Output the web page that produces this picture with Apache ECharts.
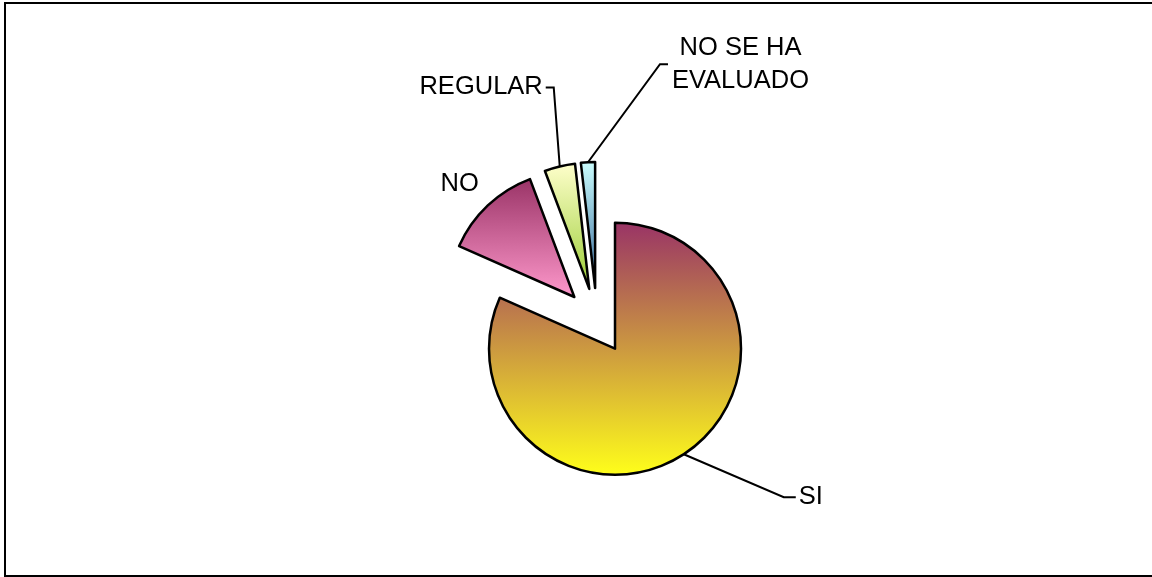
<!DOCTYPE html>
<html>
<head>
<meta charset="utf-8">
<script src="https://cdn.jsdelivr.net/npm/echarts@6/dist/echarts.min.js"></script>
<style>
  html, body { margin: 0; padding: 0; background: #fff; overflow: hidden; }
  #frame { position: absolute; left: 4px; top: 2px; width: 1170px; height: 571px; border: 2px solid #000; }
  #chart { position: absolute; left: 0; top: 0; width: 1152px; height: 577px; }
</style>
</head>
<body>
<div id="frame"></div>
<div id="chart"></div>
<script>
// datos
var categories = ["SI", "NO", "REGULAR", "NO SE HA EVALUADO"];
var values = [81.3, 12.6, 3.9, 1.8];
var topColors = ["#993366", "#993366", "#ffffcc", "#ccffff"];
var bottomColors = ["#ffff1a", "#ff99cc", "#99cc33", "#336699"];

var pieCenter = [597, 321];
var pieRadius = 126;
var explode = 33;

// leader line from (exploded) slice edge: elbow offset and tail
var guides = [
  { dx: 100, dy: 43, tail: 12 },
  { dx: -9, dy: -21, tail: 0 },
  { dx: -6, dy: -79, tail: -8 },
  { dx: 72, dy: -98, tail: 8 }
];

var chart = echarts.init(document.getElementById("chart"));

var sliceData = categories.map(function (name, i) {
  return {
    name: name,
    value: values[i],
    selected: true,
    itemStyle: {
      color: new echarts.graphic.LinearGradient(0, 0, 0, 1, [
        { offset: 0, color: topColors[i] },
        { offset: 1, color: bottomColors[i] }
      ])
    }
  };
});

var labelData = categories.map(function (name, i) {
  return {
    name: name,
    value: values[i],
    label: i === 3 ? { formatter: "NO SE HA\nEVALUADO", align: "center", lineHeight: 33 } : {}
  };
});

chart.setOption({
  animation: false,
  series: [{
    // porciones separadas
    type: "pie",
    center: pieCenter,
    radius: pieRadius,
    startAngle: 90,
    clockwise: true,
    selectedMode: "multiple",
    selectedOffset: explode,
    itemStyle: { borderColor: "#000", borderWidth: 2.5 },
    select: { itemStyle: { borderColor: "#000", borderWidth: 2.5 } },
    emphasis: { disabled: true },
    label: { show: false },
    labelLine: { show: false },
    data: sliceData
  }, {
    // solo etiquetas
    type: "pie",
    silent: true,
    z: 3,
    center: pieCenter,
    radius: pieRadius,
    startAngle: 90,
    clockwise: true,
    selectedMode: false,
    avoidLabelOverlap: false,
    emphasis: { disabled: true },
    itemStyle: { color: "rgba(0,0,0,0)", borderWidth: 0 },
    label: {
      show: true,
      position: "outside",
      color: "#000",
      fontFamily: "Liberation Sans, Arial",
      fontSize: 25.5
    },
    labelLine: {
      show: true,
      length: 20,
      length2: 10,
      lineStyle: { color: "#000", width: 2 }
    },
    labelLayout: function (p) {
      var g = guides[p.dataIndex];
      var pts = p.labelLinePoints;
      if (!pts) return {};
      var k = (pieRadius + explode) / pieRadius;
      var a = [pieCenter[0] + (pts[0][0] - pieCenter[0]) * k,
               pieCenter[1] + (pts[0][1] - pieCenter[1]) * k];
      var ex = a[0] + g.dx, ey = a[1] + g.dy;
      var hx = ex + g.tail;
      var side = g.tail >= 0 ? 1 : -1;
      var out = {
        y: ey,
        verticalAlign: "middle",
        labelLinePoints: [a, [ex, ey], [hx, ey]]
      };
      if (p.dataIndex === 1) {
        out.labelLinePoints = [a, a, a];
        out.x = ex;
        out.align = "right";
      } else if (p.dataIndex === 3) {
        out.x = hx + 4 + p.labelRect.width / 2;
        out.align = "center";
      } else {
        out.x = hx + side * 3;
        out.align = side > 0 ? "left" : "right";
      }
      return out;
    },
    data: labelData
  }]
});
</script>
</body>
</html>
